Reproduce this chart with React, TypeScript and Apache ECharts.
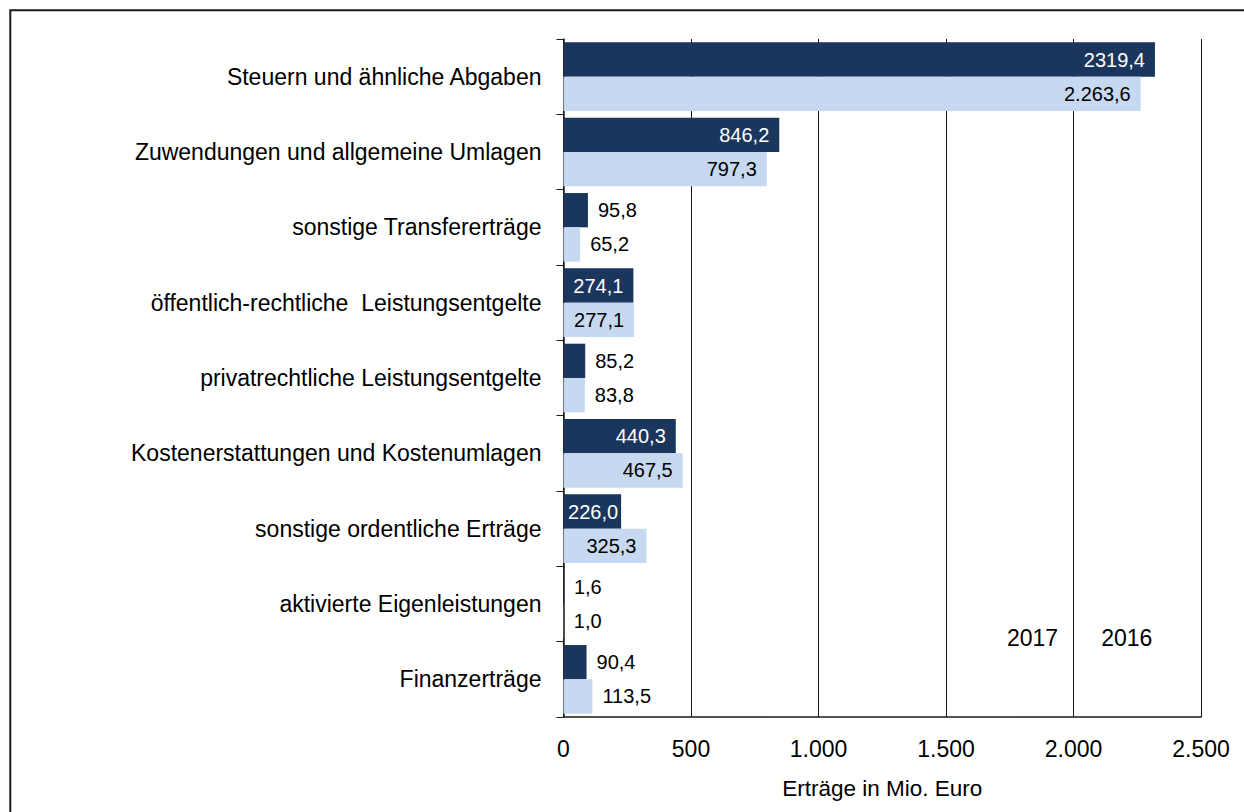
import React, { useEffect, useRef } from "react";
import * as echarts from "echarts";

const categories = [
  "Steuern und ähnliche Abgaben",
  "Zuwendungen und allgemeine Umlagen",
  "sonstige Transfererträge",
  "öffentlich-rechtliche  Leistungsentgelte",
  "privatrechtliche Leistungsentgelte",
  "Kostenerstattungen und Kostenumlagen",
  "sonstige ordentliche Erträge",
  "aktivierte Eigenleistungen",
  "Finanzerträge",
];
const seriesNames = ["2017", "2016"];
const values2017 = [2319.4, 846.2, 95.8, 274.1, 85.2, 440.3, 226.0, 1.6, 90.4];
const values2016 = [2263.6, 797.3, 65.2, 277.1, 83.8, 467.5, 325.3, 1.0, 113.5];
const labels2017 = ["2319,4", "846,2", "95,8", "274,1", "85,2", "440,3", "226,0", "1,6", "90,4"];
const labels2016 = ["2.263,6", "797,3", "65,2", "277,1", "83,8", "467,5", "325,3", "1,0", "113,5"];
const xTickLabels = ["0", "500", "1.000", "1.500", "2.000", "2.500"];
const axisTitle = "Erträge in Mio. Euro";

const FONT = "Liberation Sans";
const DARK = "#1b365d";
const LIGHT = "#c6d9f1";

function buildData(values: number[], labels: string[], insideColor: string) {
  return values.map((v, i) => {
    const inside = v >= 200;
    // tight bars: keep label inside the bar near its start
    const distance = inside && v < 260 ? 3 : 10;
    return {
      value: v,
      label: {
        show: true,
        position: inside ? "insideRight" : "right",
        distance,
        color: inside ? insideColor : "#000",
        formatter: labels[i],
        fontFamily: FONT,
        fontSize: 20,
      },
    };
  });
}

export default function App() {
  const ref = useRef<HTMLDivElement>(null);
  useEffect(() => {
    if (!ref.current) return;
    const chart = echarts.init(ref.current, undefined, { renderer: "svg" });
    chart.setOption({
      animation: false,
      backgroundColor: "#fff",
      textStyle: { fontFamily: FONT, color: "#000" },
      graphic: [
        {
          type: "rect",
          shape: { x: 10.3, y: 10.3, width: 1400, height: 1000 },
          style: { fill: "none", stroke: "#1a1a1a", lineWidth: 2 },
          silent: true,
        },
      ],
      legend: {
        data: seriesNames,
        left: 997,
        top: 621,
        itemWidth: 0,
        itemHeight: 0,
        itemGap: 38,
        selectedMode: false,
        textStyle: { fontFamily: FONT, fontSize: 23, color: "#000" },
      },
      grid: { left: 563.5, right: 43, top: 39, bottom: 95, containLabel: false },
      xAxis: {
        type: "value",
        min: 0,
        max: 2500,
        interval: 500,
        name: axisTitle,
        nameLocation: "middle",
        nameGap: 60,
        nameTextStyle: { fontFamily: FONT, fontSize: 22.5, color: "#000" },
        axisLine: { show: true, lineStyle: { color: "#1a1a1a", width: 1.5 } },
        axisTick: { show: false },
        axisLabel: {
          margin: 20,
          fontFamily: FONT,
          fontSize: 23,
          color: "#000",
          formatter: (v: number) => xTickLabels[Math.round(v / 500)] ?? String(v),
        },
        splitLine: { show: true, lineStyle: { color: "#1a1a1a", width: 1 } },
      },
      yAxis: {
        type: "category",
        data: categories,
        inverse: true,
        axisLine: { show: true, lineStyle: { color: "#1a1a1a", width: 1.5 } },
        axisTick: { show: true, length: 7, lineStyle: { color: "#1a1a1a", width: 1 } },
        axisLabel: { margin: 22, fontFamily: FONT, fontSize: 23, color: "#000" },
        splitLine: { show: false },
      },
      series: [
        {
          name: seriesNames[0],
          type: "bar",
          data: buildData(values2017, labels2017, "#fff"),
          itemStyle: { color: DARK },
          barWidth: 34.3,
          barGap: "0%",
        },
        {
          name: seriesNames[1],
          type: "bar",
          data: buildData(values2016, labels2016, "#000"),
          itemStyle: { color: LIGHT },
          barWidth: 34.3,
          barGap: "0%",
        },
      ],
    });
    return () => chart.dispose();
  }, []);
  return (
    <div
      ref={ref}
      style={{ position: "absolute", left: 0, top: 0, width: 1244, height: 812 }}
    />
  );
}
